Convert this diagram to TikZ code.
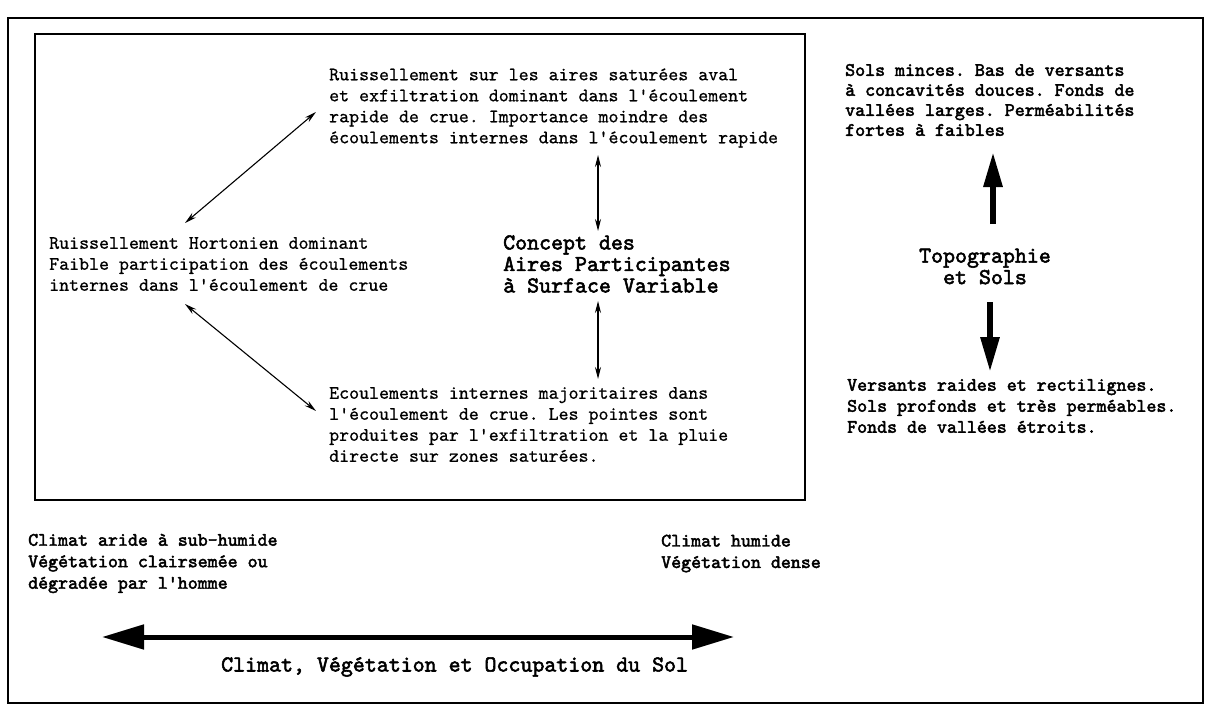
\documentclass[tikz,border=0pt]{standalone}
\usepackage{fontspec}
\setmonofont{lmmono10-regular.otf}[FakeBold=0.7, BoldFont=lmmono10-regular.otf, BoldFeatures={FakeBold=2.4}]
\usetikzlibrary{arrows.meta,calc}
\begin{document}
\begin{tikzpicture}[x=1pt,y=-1pt,
  txt/.style={font=\ttfamily\fontsize{19}{21}\selectfont, align=left, inner sep=0pt, anchor=west},
  txtb/.style={txt, font=\ttfamily\bfseries\fontsize{19}{21}\selectfont},
  head/.style={font=\ttfamily\bfseries\fontsize{22.8}{21.5}\selectfont, inner sep=0pt},
  thinarr/.style={{Stealth[length=12pt,width=6pt]}-{Stealth[length=12pt,width=6pt]}, line width=1.1pt},
  bigarr/.style={-{Triangle[length=35pt,width=18pt]}, line width=6pt},
  axisarr/.style={{Triangle[length=42pt,width=24pt]}-{Triangle[length=42pt,width=24pt]}, line width=5pt},
  frame/.style={line width=1.5pt}
]
\useasboundingbox (0,0) rectangle (1208,704);

% frames
\draw[frame] (8,18) rectangle (1203,703);
\draw[frame] (35,34) rectangle (805,500);

% texts inside the concept box
\node[txt] (ruis) at (329,108) {Ruissellement sur les aires saturées aval\\et exfiltration dominant dans l'écoulement\\rapide de crue. Importance moindre des\\écoulements internes dans l'écoulement rapide};
\node[txt] (hort) at (49,264) {Ruissellement Hortonien dominant\\Faible participation des écoulements\\internes dans l'écoulement de crue};
\node[head, anchor=west, align=left] (concept) at (503,264) {Concept des\\Aires Participantes\\à Surface Variable};
\node[txt] (ecou) at (329,424.5) {Ecoulements internes majoritaires dans\\l'écoulement de crue. Les pointes sont\\produites par l'exfiltration et la pluie\\directe sur zones saturées.};

% topography and soils
\node[txtb, font=\ttfamily\bfseries\fontsize{19}{20}\selectfont] (minces) at (845,100) {Sols minces. Bas de versants\\à concavités douces. Fonds de\\vallées larges. Perméabilités\\fortes à faibles};
\node[head, align=center] (topo) at (985,266.5) {Topographie\\et Sols};
\node[txtb] (raides) at (847,406) {Versants raides et rectilignes.\\Sols profonds et très perméables.\\Fonds de vallées étroits.};

% climate axis
\node[txtb, font=\ttfamily\bfseries\fontsize{19}{21.5}\selectfont] (aride) at (28,563.5) {Climat aride à sub-humide\\Végétation clairsemée ou\\dégradée par l'homme};
\node[txtb, font=\ttfamily\bfseries\fontsize{19}{21.5}\selectfont] (humide) at (661,553.5) {Climat humide\\Végétation dense};
\node[head, anchor=west] (axe) at (221,667) {Climat, Végétation et Occupation du Sol};

% connector ends
\coordinate (hortN) at (185,223);
\coordinate (ruisW) at (316,112);
\coordinate (hortS) at (185,304);
\coordinate (ecouW) at (316,411);
\coordinate (conceptN) at (598,231);
\coordinate (ruisS) at (598,155);
\coordinate (conceptS) at (598,301);
\coordinate (ecouN) at (598,379);
\coordinate (topoN) at (993,224);
\coordinate (mincesS) at (993,152);
\coordinate (topoS) at (990,302);
\coordinate (raidesN) at (990,372);
\coordinate (axeW) at (102,637);
\coordinate (axeE) at (734,637);

% connectors
\draw[thinarr] (hortN) -- (ruisW);
\draw[thinarr] (hortS) -- (ecouW);
\draw[thinarr] (conceptN) -- (ruisS);
\draw[thinarr] (conceptS) -- (ecouN);
\draw[bigarr] (topoN) -- (mincesS);
\draw[bigarr] (topoS) -- (raidesN);
\draw[axisarr] (axeW) -- (axeE);
\end{tikzpicture}
\end{document}
